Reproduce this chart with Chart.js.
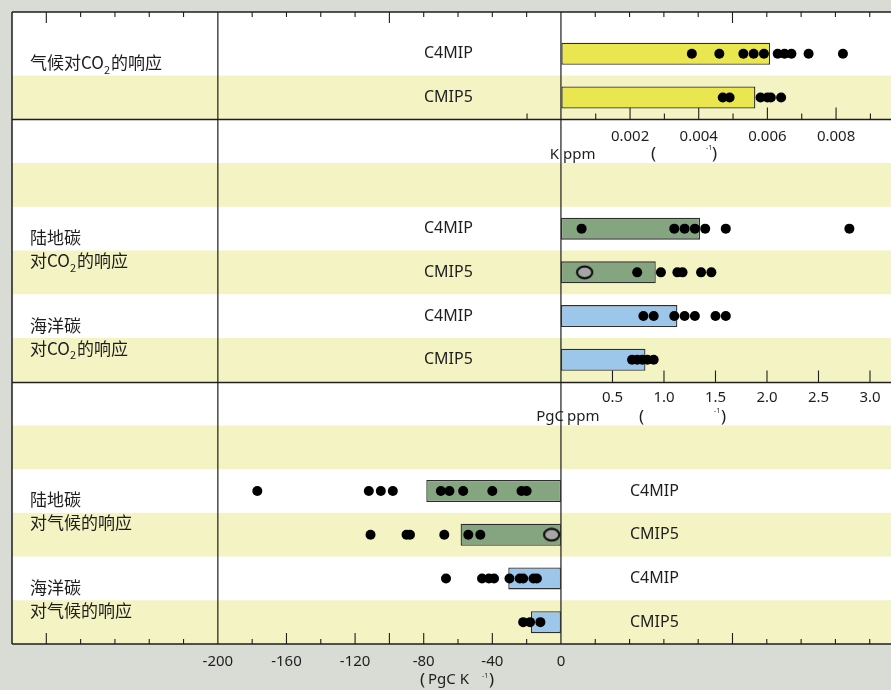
<!DOCTYPE html>
<html>
<head>
<meta charset="utf-8">
<script src="https://cdn.jsdelivr.net/npm/chart.js@4.4.1/dist/chart.umd.min.js"></script>
<style>
  html, body { margin: 0; padding: 0; background: #d9dcd4; }
  #wrap { width: 891px; height: 690px; }
</style>
</head>
<body>
<div id="wrap"><canvas id="chart" width="891" height="690"></canvas></div>
<script>
var modelNames = ['C4MIP', 'CMIP5'];

// climate response to CO2 (K ppm-1)
var climCO2Bar = [0.00608, 0.00565];
var climCO2C4MIP = [0.0038, 0.0046, 0.0053, 0.0056, 0.0059, 0.0063, 0.0065, 0.0067, 0.0072, 0.0082];
var climCO2CMIP5 = [0.0047, 0.0049, 0.0058, 0.0060, 0.0061, 0.0064];

// carbon response to CO2 (PgC ppm-1)
var landCO2Bar = [1.35, 0.92];
var landCO2C4MIP = [0.20, 1.10, 1.20, 1.30, 1.40, 1.60, 2.80];
var landCO2CMIP5 = [0.74, 0.97, 1.13, 1.18, 1.36, 1.46];
var landCO2Grey = [0.23];
var oceanCO2Bar = [1.13, 0.82];
var oceanCO2C4MIP = [0.80, 0.90, 1.10, 1.20, 1.30, 1.50, 1.60];
var oceanCO2CMIP5 = [0.69, 0.74, 0.79, 0.84, 0.90];

// carbon response to climate (PgC K-1)
var landClimBar = [-78.5, -58.5];
var landClimC4MIP = [-177, -112, -105, -98, -70, -65, -57, -40, -23, -20];
var landClimCMIP5 = [-111, -90, -88, -68, -54, -47];
var landClimGrey = [-5.4];
var oceanClimBar = [-30.7, -17.5];
var oceanClimC4MIP = [-67, -46, -42, -39, -30, -24, -22, -16, -14];
var oceanClimCMIP5 = [-22, -18, -12];

var ticksClimCO2 = [0.002, 0.004, 0.006, 0.008];
var ticksCarbonCO2 = [0.5, 1.0, 1.5, 2.0, 2.5, 3.0];
var ticksCarbonClim = [-200, -160, -120, -80, -40, 0];

var groupNames = [
  ['气候对CO2的响应'],
  ['陆地碳', '对CO2的响应'],
  ['海洋碳', '对CO2的响应'],
  ['陆地碳', '对气候的响应'],
  ['海洋碳', '对气候的响应']
];

// row of each group on the y scale (first row = C4MIP, second = CMIP5)
var groupRows = [0, 4, 6, 10, 12];

var INK = '#1e1e1e';
var YELLOW = '#e9e64f', GREEN = '#85a580', BLUE = '#9cc7eb';

function pts(vals, row) {
  return vals.map(function (v) { return { x: v, y: row }; });
}

function barSet(vals, row, axis, color) {
  return {
    type: 'bar', indexAxis: 'y', xAxisID: axis, yAxisID: 'y',
    data: [{ x: vals[0], y: row }, { x: vals[1], y: row + 1 }],
    backgroundColor: color, borderColor: '#2e2e2e', borderWidth: 1.3,
    borderSkipped: false, grouped: false, maxBarThickness: 22, order: 2
  };
}

function dotSet(data, axis, style) {
  return {
    type: 'scatter', xAxisID: axis, yAxisID: 'y', data: data,
    pointRadius: 5, pointBackgroundColor: '#000', pointBorderWidth: 0,
    pointStyle: style || 'circle', order: 1
  };
}

// grey oval marker
var oval = document.createElement('canvas');
oval.width = 19; oval.height = 15;
(function () {
  var c = oval.getContext('2d');
  c.beginPath();
  c.ellipse(9.5, 7.5, 7.6, 5.8, 0, 0, Math.PI * 2);
  c.fillStyle = '#a6a6a6';
  c.fill();
  c.lineWidth = 2.2;
  c.strokeStyle = '#111';
  c.stroke();
})();

function drawCO2Text(ctx, text, x, y) {
  var parts = text.split('CO2');
  ctx.fillText(parts[0], x, y);
  if (parts.length < 2) return;
  x += ctx.measureText(parts[0]).width;
  ctx.fillText('CO', x, y);
  x += ctx.measureText('CO').width;
  var f = ctx.font;
  ctx.font = '11px "Noto Sans CJK SC"';
  ctx.fillText('2', x, y + 7);
  x += ctx.measureText('2').width + 1;
  ctx.font = f;
  ctx.fillText(parts[1], x, y);
}

var panelDecor = {
  id: 'panelDecor',
  beforeDraw: function (chart) {
    var ctx = chart.ctx, a = chart.chartArea, y = chart.scales.y;
    ctx.save();
    ctx.fillStyle = '#d9dcd4';
    ctx.fillRect(0, 0, chart.width, chart.height);
    ctx.fillStyle = '#ffffff';
    ctx.fillRect(a.left, a.top, a.right - a.left, a.bottom - a.top);
    ctx.fillStyle = '#f4f3c4';
    for (var k = 1; k <= 13; k += 2) {
      var t = y.getPixelForValue(k - 0.5);
      var b = y.getPixelForValue(Math.min(k + 0.5, y.max));
      ctx.fillRect(a.left, t, a.right - a.left, b - t);
    }
    ctx.restore();
  },
  beforeDatasetsDraw: function (chart) {
    var ctx = chart.ctx, a = chart.chartArea, s = chart.scales;
    var y1 = Math.round(s.y.getPixelForValue(1.5)) + 0.5;
    var y2 = Math.round(s.y.getPixelForValue(7.5)) + 0.5;
    var xDiv = s.x3.getPixelForValue(-200), xZero = s.x3.getPixelForValue(0);
    ctx.save();
    ctx.strokeStyle = INK;
    ctx.lineWidth = 1.5;
    ctx.beginPath();
    ctx.moveTo(a.left, a.top); ctx.lineTo(a.right, a.top);
    ctx.moveTo(a.left, a.bottom); ctx.lineTo(a.right, a.bottom);
    ctx.moveTo(a.left, a.top); ctx.lineTo(a.left, a.bottom);
    ctx.moveTo(a.left, y1); ctx.lineTo(a.right, y1);
    ctx.moveTo(a.left, y2); ctx.lineTo(a.right, y2);
    ctx.stroke();
    ctx.lineWidth = 1.2;
    ctx.beginPath();
    ctx.moveTo(xDiv, a.top); ctx.lineTo(xDiv, a.bottom);
    ctx.moveTo(xZero, a.top); ctx.lineTo(xZero, a.bottom);
    ctx.stroke();
    ctx.lineWidth = 1.1;
    ctx.beginPath();
    // top and bottom ticks of the climate axis
    for (var v = -300; v <= 180; v += 20) {
      if (v === -200 || v === 0) continue;
      var px = s.x3.getPixelForValue(v);
      var topLong = v % 100 === 0;
      var botLong = topLong || (v < 0 && v >= -160 && v % 40 === 0);
      ctx.moveTo(px, a.top); ctx.lineTo(px, a.top + (topLong ? 11 : 5));
      ctx.moveTo(px, a.bottom); ctx.lineTo(px, a.bottom - (botLong ? 11 : 5));
    }
    // climate / CO2 axis ticks
    for (var k = -1; k <= 9; k++) {
      if (k === 0) continue;
      var p1 = s.x1.getPixelForValue(k * 0.001);
      ctx.moveTo(p1, y1); ctx.lineTo(p1, y1 - (k % 2 === 0 ? 12 : 6));
    }
    // carbon / CO2 axis ticks
    ticksCarbonCO2.forEach(function (t) {
      var p2 = s.x2.getPixelForValue(t);
      ctx.moveTo(p2, y2); ctx.lineTo(p2, y2 - 12);
    });
    ctx.stroke();
    ctx.restore();
  },
  afterDraw: function (chart) {
    var ctx = chart.ctx, a = chart.chartArea, s = chart.scales;
    var y1 = s.y.getPixelForValue(1.5), y2 = s.y.getPixelForValue(7.5);
    var z = s.x3.getPixelForValue(0);
    ctx.save();
    ctx.fillStyle = INK;
    ctx.textBaseline = 'middle';
    ctx.textAlign = 'center';
    ctx.font = '15px "Noto Sans"';
    ticksClimCO2.forEach(function (t) {
      ctx.fillText(t.toFixed(3), s.x1.getPixelForValue(t), y1 + 17);
    });
    ticksCarbonCO2.forEach(function (t) {
      ctx.fillText(t.toFixed(1), s.x2.getPixelForValue(t), y2 + 16);
    });
    ticksCarbonClim.forEach(function (t) {
      ctx.fillText(String(t), s.x3.getPixelForValue(t), a.bottom + 18);
    });

    // axis titles
    ctx.textAlign = 'right';
    ctx.fillText('K', z - 2, y1 + 35);
    ctx.fillText('PgC', z + 3, y2 + 35);
    ctx.textAlign = 'left';
    ctx.fillText('ppm', z + 2, y1 + 35);
    ctx.fillText('ppm', z + 6, y2 + 35);
    ctx.fillText('PgC K', z - 133, a.bottom + 36);
    ctx.font = '17px "Noto Sans"';
    ctx.fillText('(', z + 90, y1 + 35);
    ctx.fillText(')', z + 151, y1 + 35);
    ctx.fillText('(', z + 78, y2 + 35);
    ctx.fillText(')', z + 160, y2 + 35);
    ctx.fillText('(', z - 141, a.bottom + 36);
    ctx.fillText(')', z - 72, a.bottom + 36);
    ctx.font = '7px "Noto Sans"';
    ctx.fillText('-1', z + 145, y1 + 29);
    ctx.fillText('-1', z + 153, y2 + 29);
    ctx.fillText('-1', z - 79, a.bottom + 32);

    // model labels
    ctx.font = '16px "Noto Sans"';
    groupRows.forEach(function (r, g) {
      var lx = g < 3 ? 424 : 630;
      modelNames.forEach(function (m, i) {
        ctx.fillText(m, lx, s.y.getPixelForValue(r + i));
      });
    });

    // group labels
    ctx.font = '17px "Noto Sans CJK SC"';
    groupRows.forEach(function (r, g) {
      var base = s.y.getPixelForValue(r);
      groupNames[g].forEach(function (line, i) {
        drawCO2Text(ctx, line, 30, base + 9 + i * 23);
      });
    });
    ctx.restore();
  }
};

new Chart(document.getElementById('chart'), {
  type: 'scatter',
  data: {
    datasets: [
      barSet(climCO2Bar, 0, 'x1', YELLOW),
      barSet(landCO2Bar, 4, 'x2', GREEN),
      barSet(oceanCO2Bar, 6, 'x2', BLUE),
      barSet(landClimBar, 10, 'x3', GREEN),
      barSet(oceanClimBar, 12, 'x3', BLUE),
      dotSet(pts(climCO2C4MIP, 0).concat(pts(climCO2CMIP5, 1)), 'x1'),
      dotSet(pts(landCO2C4MIP, 4).concat(pts(landCO2CMIP5, 5)), 'x2'),
      dotSet(pts(oceanCO2C4MIP, 6).concat(pts(oceanCO2CMIP5, 7)), 'x2'),
      dotSet(pts(landClimC4MIP, 10).concat(pts(landClimCMIP5, 11)), 'x3'),
      dotSet(pts(oceanClimC4MIP, 12).concat(pts(oceanClimCMIP5, 13)), 'x3'),
      dotSet(pts(landCO2Grey, 5), 'x2', oval),
      dotSet(pts(landClimGrey, 11), 'x3', oval)
    ]
  },
  options: {
    responsive: false,
    animation: false,
    layout: { autoPadding: false, padding: { left: 12, top: 12, right: 0, bottom: 46 } },
    plugins: { legend: { display: false }, tooltip: { enabled: false } },
    scales: {
      y: { type: 'linear', min: -0.955, max: 13.5, reverse: true, offset: false, display: false },
      x1: { type: 'linear', axis: 'x', min: -0.016, max: 0.0096, offset: false, display: false },
      x2: { type: 'linear', axis: 'x', min: -5.33, max: 3.204, offset: false, display: false },
      x3: { type: 'linear', axis: 'x', min: -320, max: 192.4, offset: false, display: false }
    }
  },
  plugins: [panelDecor]
});
</script>
</body>
</html>
